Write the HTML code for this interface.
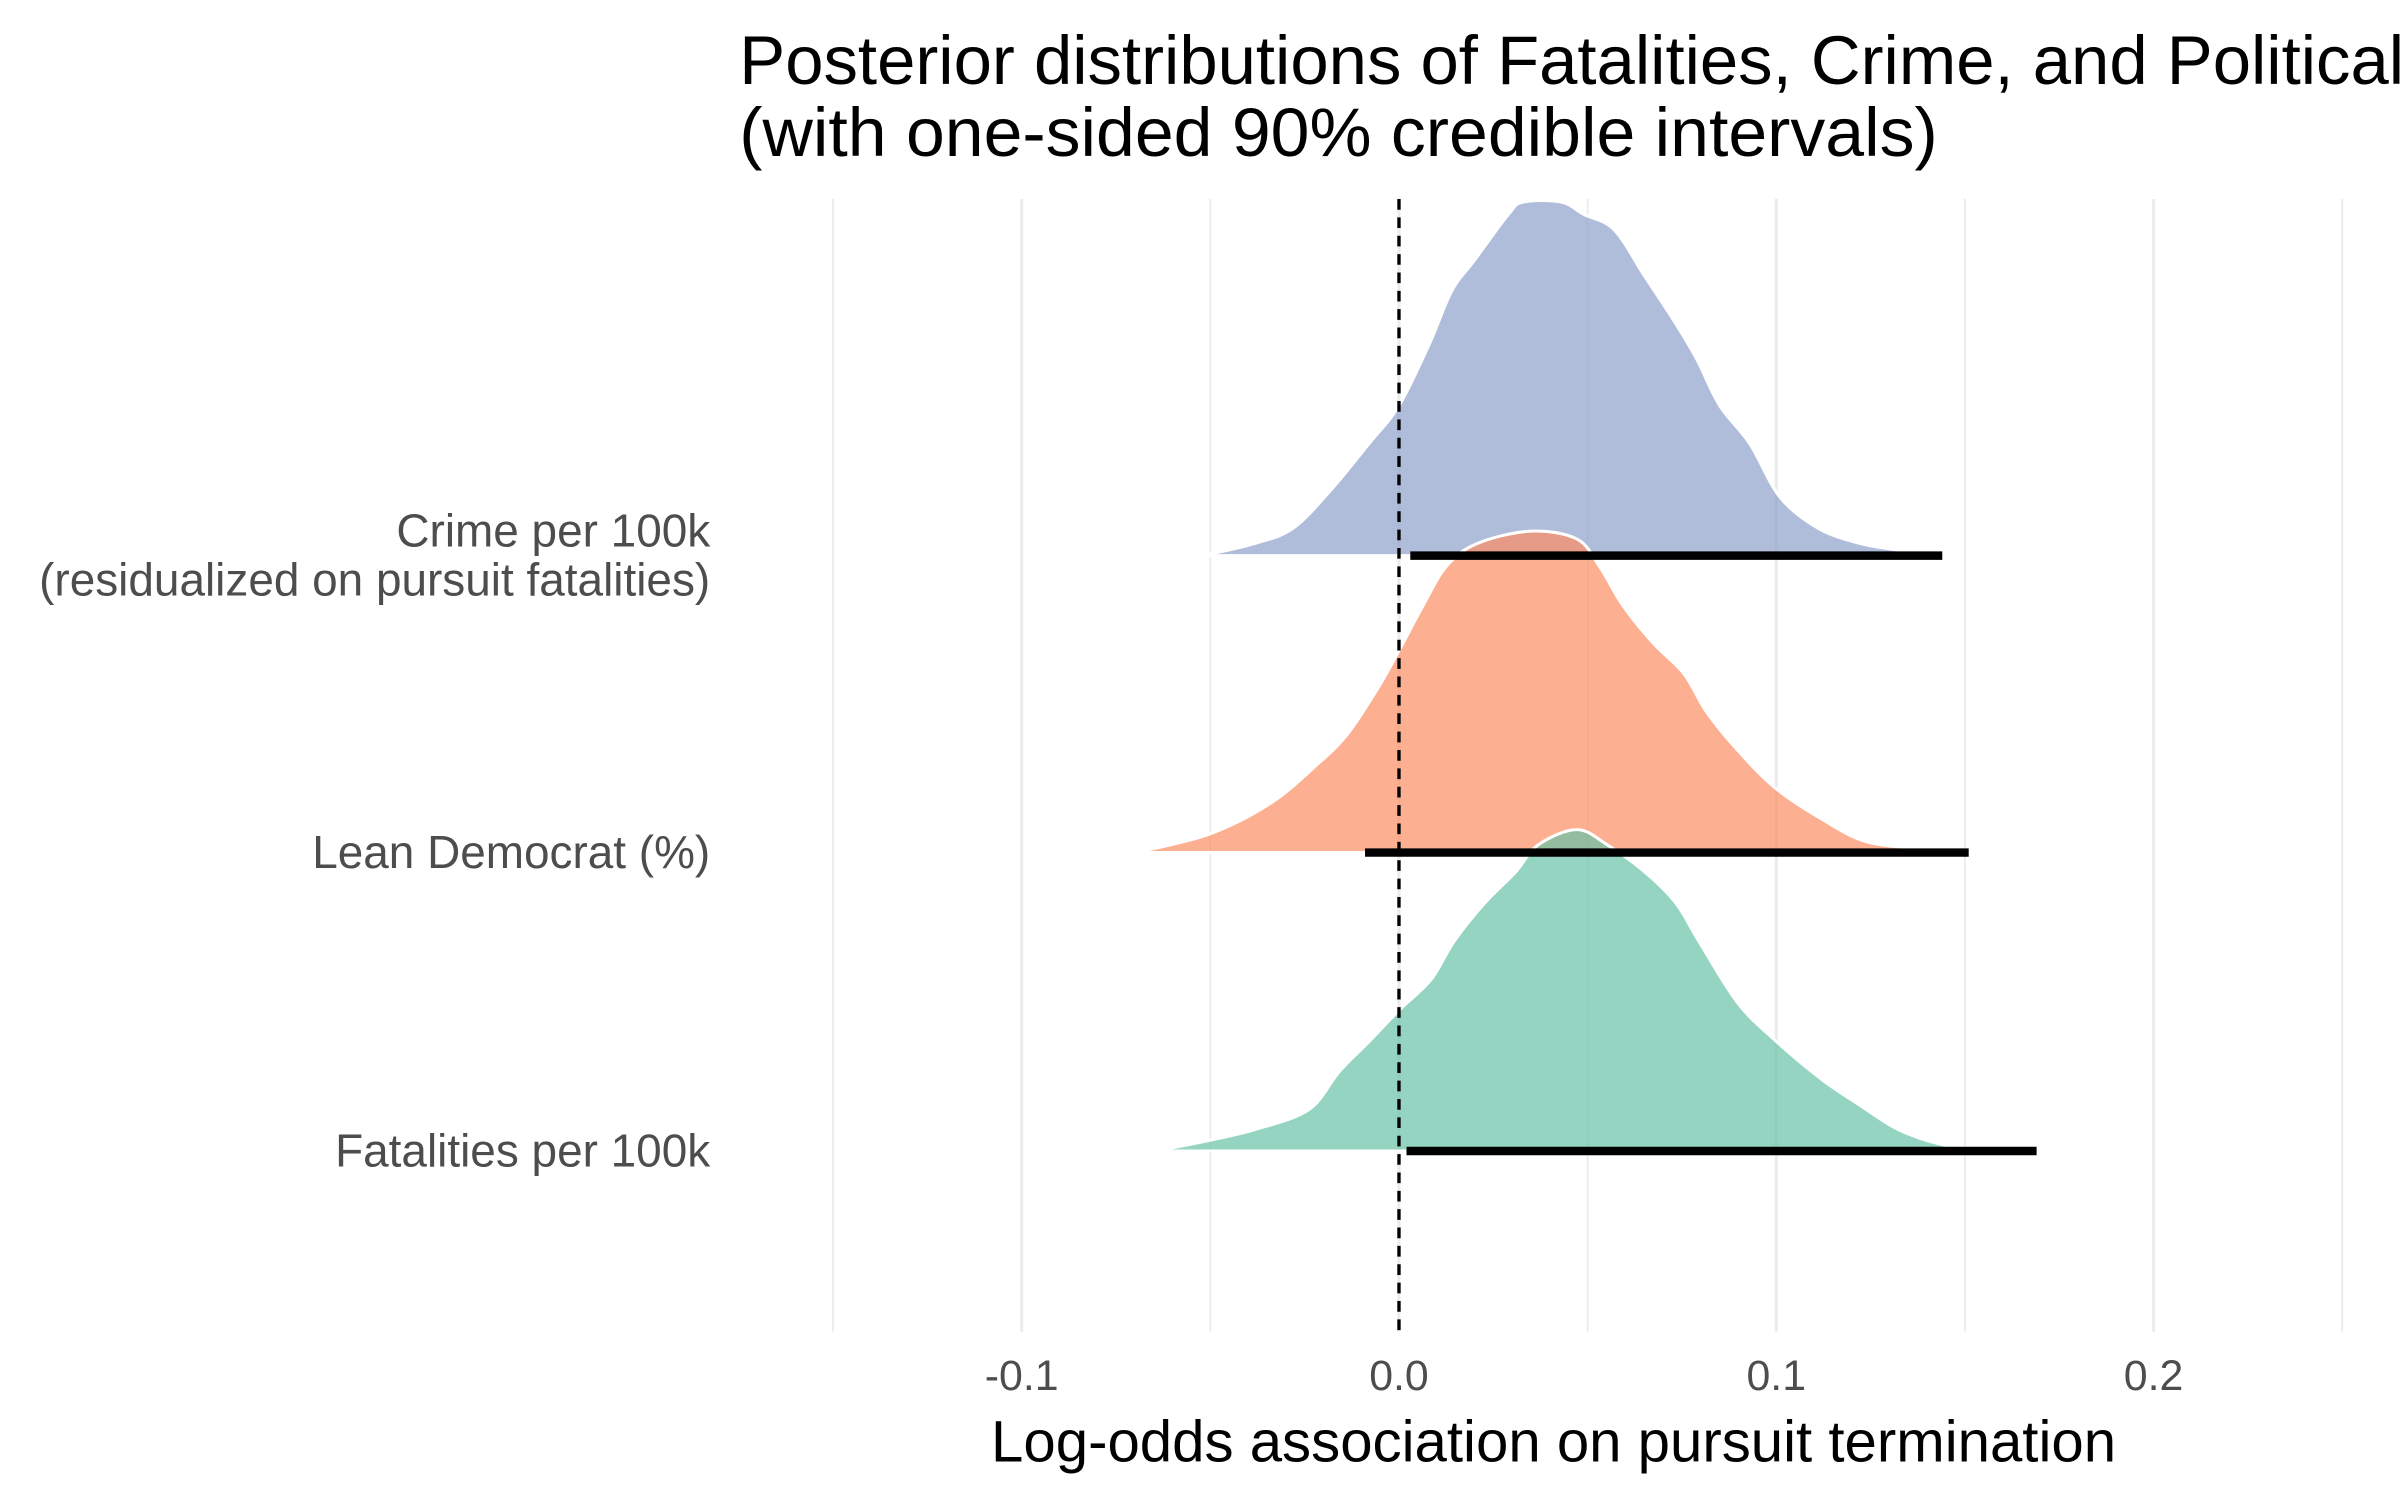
<!DOCTYPE html>
<html><head><meta charset="utf-8"><style>
html,body{margin:0;padding:0;background:#fff;overflow:hidden;}
svg{display:block;font-family:"Liberation Sans",Arial,sans-serif;}
</style></head><body>
<svg id="chart" width="2400" height="1500" viewBox="0 0 1568 980" xmlns="http://www.w3.org/2000/svg">
<text x="483" y="55" font-size="45" fill="#000">Posterior distributions of Fatalities, Crime, and Political Lean</text>
<text x="483" y="102" font-size="45" fill="#000" textLength="783" lengthAdjust="spacingAndGlyphs">(with one-sided 90% credible intervals)</text>
<g id="grid"></g>
<g id="ridges"></g>
<g id="ylabels"></g>
<g id="xlabels"></g>
<text x="1015" y="955" font-size="38" text-anchor="middle" fill="#000">Log-odds association on pursuit termination</text>
</svg>
<script>
const categories = ["Crime per 100k|(residualized on pursuit fatalities)", "Lean Democrat (%)", "Fatalities per 100k"];
const crimeX = [-0.052,-0.038,-0.028,-0.018,-0.008,0,0.008,0.014,0.02,0.029,0.033,0.043,0.049,0.057,0.065,0.073,0.079,0.085,0.093,0.101,0.111,0.122,0.134,0.144];
const crimeD = [0,0.035,0.078,0.186,0.316,0.424,0.597,0.749,0.835,0.965,1.0,1.0,0.965,0.922,0.792,0.662,0.554,0.424,0.316,0.165,0.078,0.035,0.013,0];
const leanX = [-0.0698,-0.0503,-0.0341,-0.0219,-0.0138,-0.0057,0,0.0065,0.0126,0.0207,0.0349,0.0471,0.0531,0.0592,0.0673,0.0755,0.0815,0.0897,0.0998,0.112,0.1241,0.1404,0.1485];
const leanD = [0,0.052,0.139,0.247,0.333,0.463,0.571,0.701,0.810,0.874,0.909,0.887,0.810,0.701,0.593,0.506,0.398,0.290,0.182,0.095,0.030,0.009,0];
const fatalX = [-0.0645,-0.0503,-0.0381,-0.0239,-0.0158,-0.0077,0,0.0085,0.0146,0.0227,0.0308,0.0369,0.0471,0.0552,0.0653,0.0734,0.0795,0.0897,0.0998,0.112,0.1221,0.1323,0.1444,0.1566];
const fatalD = [0,0.030,0.061,0.117,0.225,0.312,0.398,0.485,0.593,0.701,0.788,0.866,0.909,0.866,0.788,0.701,0.593,0.420,0.312,0.203,0.130,0.061,0.017,0];
const intervalLow = [0.003,-0.009,0.002];
const intervalHigh = [0.144,0.151,0.169];
const colors = ["#8da0cb","#fc8d62","#66c2a5"];
const majorTicks = [-0.1,0.0,0.1,0.2];
const tickLabels = ["-0.1","0.0","0.1","0.2"];
const minorTicks = [-0.15,-0.05,0.05,0.15,0.25];

const NS="http://www.w3.org/2000/svg";
const xS = v => 914 + v*2465;
const baseY = [363,557,752];
const yS = (i,d) => baseY[i] - d*231;
const PT=130, PB=870;
function mk(tag, attrs, parent){const e=document.createElementNS(NS,tag);for(const k in attrs)e.setAttribute(k,attrs[k]);parent.appendChild(e);return e;}
const grid=document.getElementById('grid');
minorTicks.forEach(t=>{
  const l=mk('line',{x1:xS(t),x2:xS(t),y1:PT,y2:PB,stroke:'#ebebeb','stroke-width':1.2},grid);
  
  
});
majorTicks.forEach(t=>{
  const l=mk('line',{x1:xS(t),x2:xS(t),y1:PT,y2:PB,stroke:'#ebebeb','stroke-width':2},grid);
  
  
});
const xl=document.getElementById('xlabels');
majorTicks.forEach((t,i)=>{
  const e=mk('text',{x:xS(t),y:908,'font-size':28,'text-anchor':'middle',fill:'#4d4d4d'},xl);
  e.textContent=tickLabels[i];
  
  
});
const ridges=document.getElementById('ridges');
const series=[[crimeX,crimeD],[leanX,leanD],[fatalX,fatalD]];
function smoothPath(pts){
  let d=`M${pts[0][0]},${pts[0][1]}`;
  for(let i=0;i<pts.length-1;i++){
    const p0=pts[Math.max(0,i-1)],p1=pts[i],p2=pts[i+1],p3=pts[Math.min(pts.length-1,i+2)];
    const c1=[p1[0]+(p2[0]-p0[0])/6,p1[1]+(p2[1]-p0[1])/6];
    const c2=[p2[0]-(p3[0]-p1[0])/6,p2[1]-(p3[1]-p1[1])/6];
    d+=` C${c1[0]},${c1[1]} ${c2[0]},${c2[1]} ${p2[0]},${p2[1]}`;
  }
  return d;
}
series.forEach((s,i)=>{
  const pts=s[0].map((x,j)=>[xS(x),yS(i,s[1][j])]);
  const p=mk('path',{d:smoothPath(pts)+' Z',fill:colors[i],'fill-opacity':0.7,stroke:'#fff','stroke-width':2},ridges);
  
  
});
const dl=mk('line',{x1:xS(0),x2:xS(0),y1:PT,y2:PB,stroke:'#000','stroke-width':2.2,'stroke-dasharray':'7,5'},ridges);


intervalLow.forEach((lo,i)=>{
  const l=mk('line',{x1:xS(lo),x2:xS(intervalHigh[i]),y1:baseY[i],y2:baseY[i],stroke:'#000','stroke-width':5.5},ridges);
  
  
});
const yl=document.getElementById('ylabels');
categories.forEach((c,i)=>{
  const lines=c.split('|');
  lines.forEach((t,k)=>{
    const y=baseY[i]+10-(lines.length-1-k)*32+(lines.length>1?16:0);
    const e=mk('text',{x:464,y:y,'font-size':30,'text-anchor':'end',fill:'#4d4d4d'},yl);
    e.textContent=t;
    
    
  });
});
</script>
</body></html>
